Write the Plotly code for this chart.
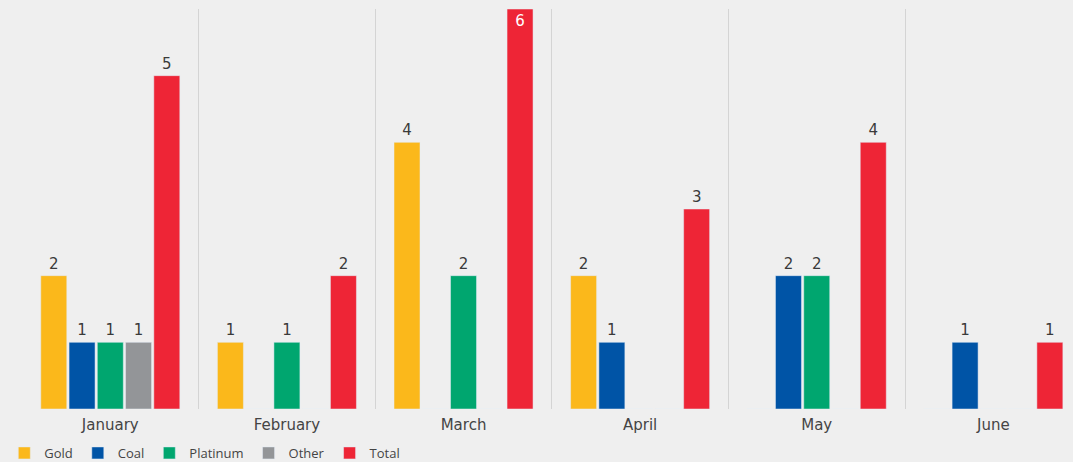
import plotly.graph_objects as go

months = ["January", "February", "March", "April", "May", "June"]
gold = [2, 1, 4, 2, 0, 0]
coal = [1, 0, 0, 1, 2, 1]
platinum = [1, 1, 2, 0, 2, 0]
other = [1, 0, 0, 0, 0, 0]
total = [5, 2, 6, 3, 4, 1]

series = [
    ("Gold", gold, "#FBB81B"),
    ("Coal", coal, "#0054A6"),
    ("Platinum", platinum, "#00A66F"),
    ("Other", other, "#939598"),
    ("Total", total, "#EE2536"),
]

ymax = 6
FONT = "DejaVu Sans"

fig = go.Figure()
for name, vals, color in series:
    texts = [str(v) if v else "" for v in vals]
    positions = ["inside" if v >= ymax else "outside" for v in vals]
    fig.add_trace(go.Bar(
        name=name, x=months, y=vals, marker_color=color,
        text=texts, textposition=positions,
        insidetextanchor="end",
        outsidetextfont=dict(size=15, color="#3a3a3a", family=FONT),
        insidetextfont=dict(size=15, color="#ffffff", family=FONT),
        cliponaxis=False,
    ))

fig.update_layout(
    width=1073, height=462,
    barmode="group", bargap=0.2, bargroupgap=0.08,
    paper_bgcolor="#efefef", plot_bgcolor="rgba(0,0,0,0)",
    margin=dict(l=22, r=0, t=9, b=53),
    font=dict(family=FONT, color="#444444"),
    legend=dict(orientation="h", xref="container", x=0.004, y=0.052, yref="container",
                yanchor="top", font=dict(size=13, color="#444444", family="Open Sans"),
                bgcolor="rgba(0,0,0,0)", itemclick=False),
)
fig.update_xaxes(range=[-0.5, 5.451], tickson="boundaries", showgrid=True,
                 gridcolor="#d4d4d4", gridwidth=1, ticks="", showline=False,
                 ticklabelstandoff=5,
                 tickfont=dict(size=15, color="#444444", family=FONT), zeroline=False)
fig.update_yaxes(range=[0, ymax], visible=False, showgrid=False, zeroline=False)

fig.write_html("out.html", config={"displayModeBar": False},
               post_script="document.body.style.margin='0';")
